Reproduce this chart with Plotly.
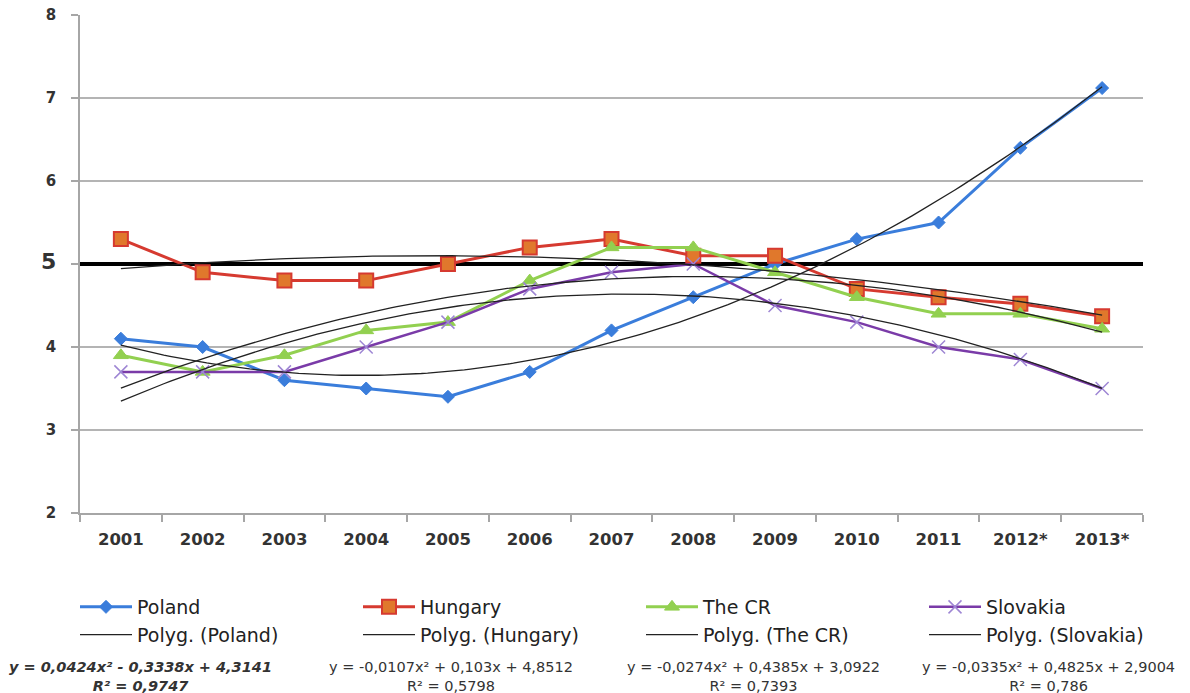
import numpy as np
import plotly.graph_objects as go

years = ["2001", "2002", "2003", "2004", "2005", "2006", "2007", "2008", "2009", "2010", "2011", "2012*", "2013*"]
poland = [4.1, 4.0, 3.6, 3.5, 3.4, 3.7, 4.2, 4.6, 5.0, 5.3, 5.5, 6.4, 7.12]
hungary = [5.3, 4.9, 4.8, 4.8, 5.0, 5.2, 5.3, 5.1, 5.1, 4.7, 4.6, 4.52, 4.37]
cr = [3.9, 3.7, 3.9, 4.2, 4.3, 4.8, 5.2, 5.2, 4.9, 4.6, 4.4, 4.4, 4.22]
slovakia = [3.7, 3.7, 3.7, 4.0, 4.3, 4.7, 4.9, 5.0, 4.5, 4.3, 4.0, 3.85, 3.5]
equations = [
    "<i><b>y = 0,0424x² - 0,3338x + 4,3141</b></i><br><i><b>R² = 0,9747</b></i>",
    "y = -0,0107x² + 0,103x + 4,8512<br>R² = 0,5798",
    "y = -0,0274x² + 0,4385x + 3,0922<br>R² = 0,7393",
    "y = -0,0335x² + 0,4825x + 2,9004<br>R² = 0,786",
]
threshold = 5

x = np.arange(1, len(years) + 1)

# plot area in pixels
L, R, T, B = 80, 1143, 15, 513
W, H = 1190, 693


def px(xp):
    return (xp - L) / (R - L)


def py(yp):
    return (B - yp) / (B - T)


fig = go.Figure()

# threshold line (drawn first so the series lie on top of it)
fig.add_trace(go.Scatter(
    x=[0.5, len(years) + 0.5], y=[threshold, threshold], mode="lines",
    line=dict(color="black", width=4), showlegend=False, hoverinfo="skip", cliponaxis=False,
))

series = [
    ("Poland", poland, "#3A7DDB", "#3A7DDB", "diamond", 10, 3, "#3A7DDB", 1),
    ("Hungary", hungary, "#D63A30", "#E0782C", "square", 14, 3, "#D63A30", 2),
    ("The CR", cr, "#92D050", "#92D050", "triangle-up", 13, 3, "#92D050", 1),
    ("Slovakia", slovakia, "#7A3BA8", "#9E86D4", "x-thin", 13, 2.5, "#9E86D4", 1.5),
]

for name, vals, lc, mc, sym, ms, lw, mlc, mlw in series:
    fig.add_trace(go.Scatter(
        x=x, y=vals, mode="lines+markers", name=name,
        line=dict(color=lc, width=lw),
        marker=dict(symbol=sym, size=ms, color=mc, line=dict(color=mlc, width=mlw)),
    ))

xf = np.linspace(1, len(years), 161)
for name, vals, *_ in series:
    c = np.polyfit(x, vals, 2)
    fig.add_trace(go.Scatter(
        x=xf, y=np.polyval(c, xf), mode="lines", name=f"Polyg. ({name})",
        line=dict(color="#222222", width=1.3),
    ))

eq_x = [140, 451, 753, 1048]
for ex, txt in zip(eq_x, equations):
    fig.add_annotation(xref="paper", yref="paper", x=px(ex), y=py(657), text=txt,
                       showarrow=False, yanchor="top", xanchor="center",
                       font=dict(family="DejaVu Sans", size=14.5, color="#333"))

ytext = [str(v) if v != threshold else "<span style='font-size:22px'><b>5</b></span>"
         for v in range(2, 9)]

fig.update_layout(
    width=W, height=H,
    margin=dict(l=L, r=W - R, t=T, b=H - B, autoexpand=False),
    plot_bgcolor="white", paper_bgcolor="white",
    showlegend=True,
    legend=dict(orientation="h", x=px(75), y=py(588), xanchor="left", yanchor="top",
                entrywidth=216, entrywidthmode="pixels", traceorder="normal",
                font=dict(family="DejaVu Sans", size=19, color="#222"),
                itemwidth=52, bgcolor="rgba(0,0,0,0)"),
    xaxis=dict(range=[0.5, len(years) + 0.5], tickmode="array", tickvals=x, ticktext=years,
               showgrid=False, zeroline=False, showline=True, linecolor="#A6A6A6", linewidth=1.5,
               ticks="", ticklabelstandoff=10, automargin=False,
               minor=dict(tickmode="linear", tick0=0.5, dtick=1, ticks="outside", ticklen=7,
                          tickcolor="#A6A6A6", tickwidth=1.5, showgrid=False),
               tickfont=dict(family="DejaVu Sans", size=16.5, color="#333", weight="bold")),
    yaxis=dict(range=[2, 8], tickmode="array", tickvals=list(range(2, 9)), ticktext=ytext,
               showgrid=True, gridcolor="#B4B4B4", gridwidth=1.5, zeroline=False,
               showline=True, linecolor="#A6A6A6", linewidth=1.5,
               ticks="outside", ticklen=7, tickcolor="#A6A6A6", tickwidth=1.5,
               ticklabelstandoff=12, automargin=False,
               tickfont=dict(family="DejaVu Sans", size=15, color="#333", weight="bold")),
)

fig.write_html("out.html")
